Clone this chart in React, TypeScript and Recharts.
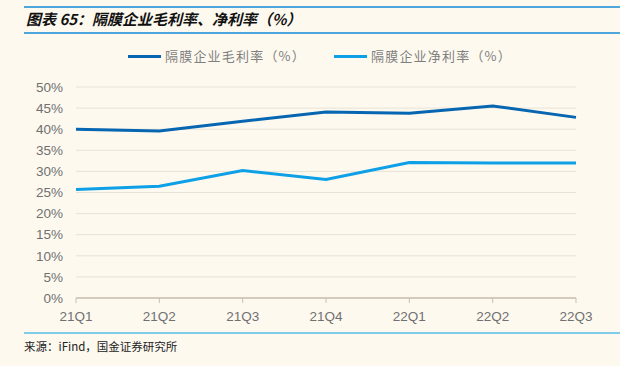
import React from "react";
import { LineChart, Line, XAxis, YAxis, CartesianGrid } from "recharts";

const quarters = ["21Q1", "21Q2", "21Q3", "21Q4", "22Q1", "22Q2", "22Q3"];
const grossMargin = [40.0, 39.6, 41.9, 44.1, 43.8, 45.5, 42.8];
const netMargin = [25.7, 26.5, 30.2, 28.1, 32.1, 32.0, 32.0];
const yTicks = [0, 5, 10, 15, 20, 25, 30, 35, 40, 45, 50];

const series = [
  { key: "gross", name: "隔膜企业毛利率（%）", color: "#0766B2" },
  { key: "net", name: "隔膜企业净利率（%）", color: "#0EA0E6" },
];

const data = quarters.map((q, i) => ({
  q,
  gross: grossMargin[i],
  net: netMargin[i],
}));

const BG = "#FDF9EF";
const tickFont = { fill: "#707070", fontSize: 13.5, fontFamily: "'Liberation Sans', Arial, sans-serif" };

export default function App() {
  return (
    <div
      style={{
        position: "absolute",
        left: 0,
        top: 0,
        width: 620,
        height: 366,
        background: BG,
        overflow: "hidden",
      }}
    >
      <div style={{ position: "absolute", left: 24, right: 0, top: 6, height: 2, background: "#4DA6DC" }} />
      <div
        style={{
          position: "absolute",
          left: 26,
          top: 9,
          fontFamily: "'Noto Sans CJK SC', sans-serif",
          fontWeight: "bold",
          fontStyle: "italic",
          fontSize: 15,
          color: "#111",
          lineHeight: "20px",
        }}
      >
        图表 65：隔膜企业毛利率、净利率（%）
      </div>
      <div style={{ position: "absolute", left: 24, right: 0, top: 32, height: 2, background: "#4DA6DC" }} />
      <div style={{ position: "absolute", left: 0, top: 0 }}>
        <LineChart
          width={620}
          height={366}
          data={data}
          margin={{ top: 87, right: 44, bottom: 38, left: 16 }}
        >
          <CartesianGrid vertical={false} stroke="#E8E2D6" strokeWidth={1} />
          <XAxis
            dataKey="q"
            axisLine={{ stroke: "#C9BFB2", strokeWidth: 1.5 }}
            tickLine={{ stroke: "#C9BFB2" }}
            tickSize={5}
            tickMargin={8}
            height={30}
            tick={tickFont}
            interval={0}
          />
          <YAxis
            domain={[0, 50]}
            ticks={yTicks}
            interval={0}
            width={60}
            axisLine={false}
            tickLine={false}
            tickSize={0}
            tickMargin={13}
            tickFormatter={(v: number) => `${v}%`}
            tick={tickFont}
          />
          {series.map((s) => (
            <Line
              key={s.key}
              name={s.name}
              dataKey={s.key}
              stroke={s.color}
              strokeWidth={3}
              dot={false}
              isAnimationActive={false}
            />
          ))}
        </LineChart>
      </div>
      <div style={{ position: "absolute", left: 128, top: 47, display: "flex" }}>
        {series.map((s, i) => (
          <div
            key={s.key}
            style={{ display: "flex", alignItems: "center", marginLeft: i === 0 ? 0 : 28 }}
          >
            <div style={{ width: 33, height: 3, background: s.color, marginRight: 4 }} />
            <span
              style={{
                fontFamily: "'Noto Sans CJK SC', sans-serif",
                fontSize: 13,
                color: "#808080",
                letterSpacing: 1.2,
                lineHeight: "18px",
              }}
            >
              {s.name}
            </span>
          </div>
        ))}
      </div>
      <div style={{ position: "absolute", left: 24, right: 0, top: 332, height: 2, background: "#7FCCEB" }} />
      <div
        style={{
          position: "absolute",
          left: 24,
          top: 338,
          fontFamily: "'Noto Sans CJK SC', sans-serif",
          fontSize: 11.5,
          color: "#222",
          lineHeight: "16px",
        }}
      >
        来源：iFind，国金证券研究所
      </div>
    </div>
  );
}
